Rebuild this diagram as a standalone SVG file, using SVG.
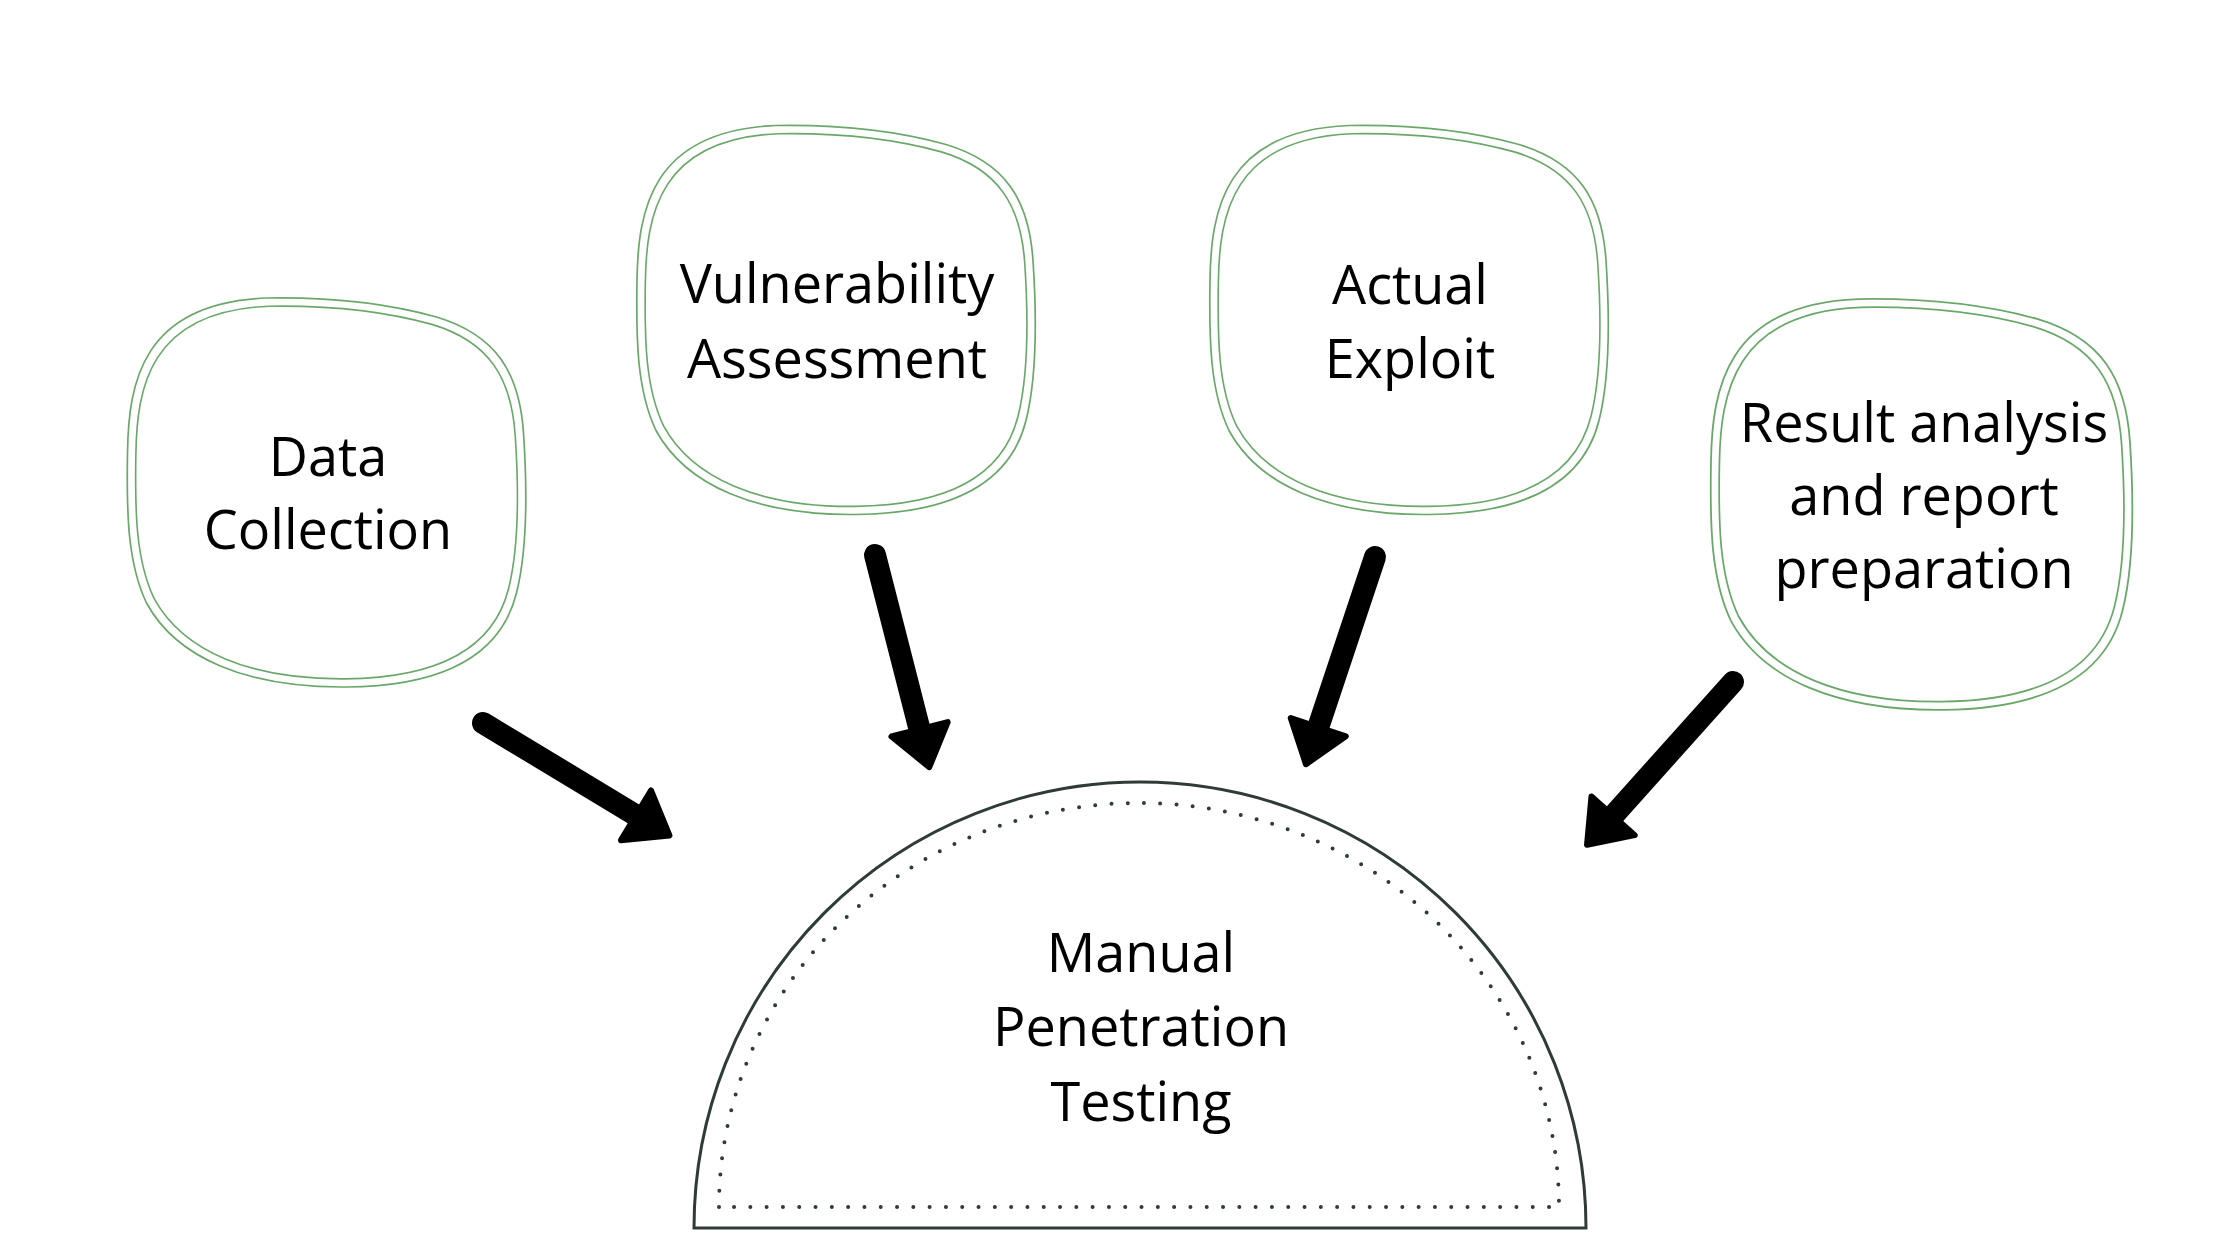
<svg xmlns="http://www.w3.org/2000/svg" xmlns:xlink="http://www.w3.org/1999/xlink" width="2240" height="1260" viewBox="0 0 2240 1260">
  <style>
    .lbl { font-family: "Open Sans", "Noto Sans", "Liberation Sans", sans-serif; font-size: 54px; fill: #000; text-anchor: middle; }
    .blob { fill: none; stroke: #6aa86a; stroke-width: 1.7; }
    .conn { stroke: #000; stroke-width: 22; stroke-linecap: round; fill: none; }
  </style>
  <defs>
    <path id="blobShape" d="M -60,-195 C 0,-196 60,-190 110,-176 C 170,-158 193,-120 197,-60 C 201,0 200,60 190,100 C 175,160 120,193 20,194 C -80,195 -150,165 -180,110 C -199,70 -200,20 -199,-40 C -198,-110 -185,-190 -60,-195 Z"/>
    <marker id="ah" markerUnits="userSpaceOnUse" viewBox="-4 -36 56 72" markerWidth="56" markerHeight="72" refX="0" refY="0" orient="auto" overflow="visible">
      <path d="M 2,-29 L 41,0 L 2,29 Z" fill="#000" stroke="#000" stroke-width="6" stroke-linejoin="round"/>
    </marker>
  </defs>
  <rect x="0" y="0" width="2240" height="1260" fill="#fff"/>

  <g id="node-data-collection">
    <g transform="translate(326.5,493)">
      <use xlink:href="#blobShape" class="blob"/>
      <use xlink:href="#blobShape" class="blob" transform="scale(0.958)"/>
    </g>
    <text class="lbl" x="328" y="476">Data</text>
    <text class="lbl" x="328" y="549">Collection</text>
  </g>

  <g id="node-vulnerability-assessment">
    <g transform="translate(836,320.5)">
      <use xlink:href="#blobShape" class="blob"/>
      <use xlink:href="#blobShape" class="blob" transform="scale(0.958)"/>
    </g>
    <text class="lbl" x="837" y="303">Vulnerability</text>
    <text class="lbl" x="837" y="378">Assessment</text>
  </g>

  <g id="node-actual-exploit">
    <g transform="translate(1409,320.5)">
      <use xlink:href="#blobShape" class="blob"/>
      <use xlink:href="#blobShape" class="blob" transform="scale(0.958)"/>
    </g>
    <text class="lbl" x="1410" y="304">Actual</text>
    <text class="lbl" x="1410" y="378">Exploit</text>
  </g>

  <g id="node-result-analysis">
    <g transform="translate(1921.5,505) scale(1.058,1.056)">
      <use xlink:href="#blobShape" class="blob"/>
      <use xlink:href="#blobShape" class="blob" transform="scale(0.96)"/>
    </g>
    <text class="lbl" x="1924" y="442">Result analysis</text>
    <text class="lbl" x="1924" y="515">and report</text>
    <text class="lbl" x="1924" y="588">preparation</text>
  </g>

  <g id="node-manual-penetration-testing">
    <path d="M 694,1228 A 446,446 0 0 1 1586,1228 Z" fill="#fff" stroke="#2e3b37" stroke-width="3"/>
    <path d="M 719,1207 A 420,404 0 0 1 1559,1207 Z" fill="none" stroke="#2e3b37" stroke-width="4" stroke-linecap="round" stroke-dasharray="0 16.3"/>
    <text class="lbl" x="1141" y="972">Manual</text>
    <text class="lbl" x="1141" y="1046">Penetration</text>
    <text class="lbl" x="1141" y="1121">Testing</text>
  </g>

  <g id="connectors">
    <path class="conn" d="M 483,723 L 634.3,814.3" marker-end="url(#ah)"/>
    <path class="conn" d="M 875,555 L 919.1,727.4" marker-end="url(#ah)"/>
    <path class="conn" d="M 1375,557 L 1318.9,725.3" marker-end="url(#ah)"/>
    <path class="conn" d="M 1733,682 L 1614.4,814.3" marker-end="url(#ah)"/>
  </g>
</svg>
